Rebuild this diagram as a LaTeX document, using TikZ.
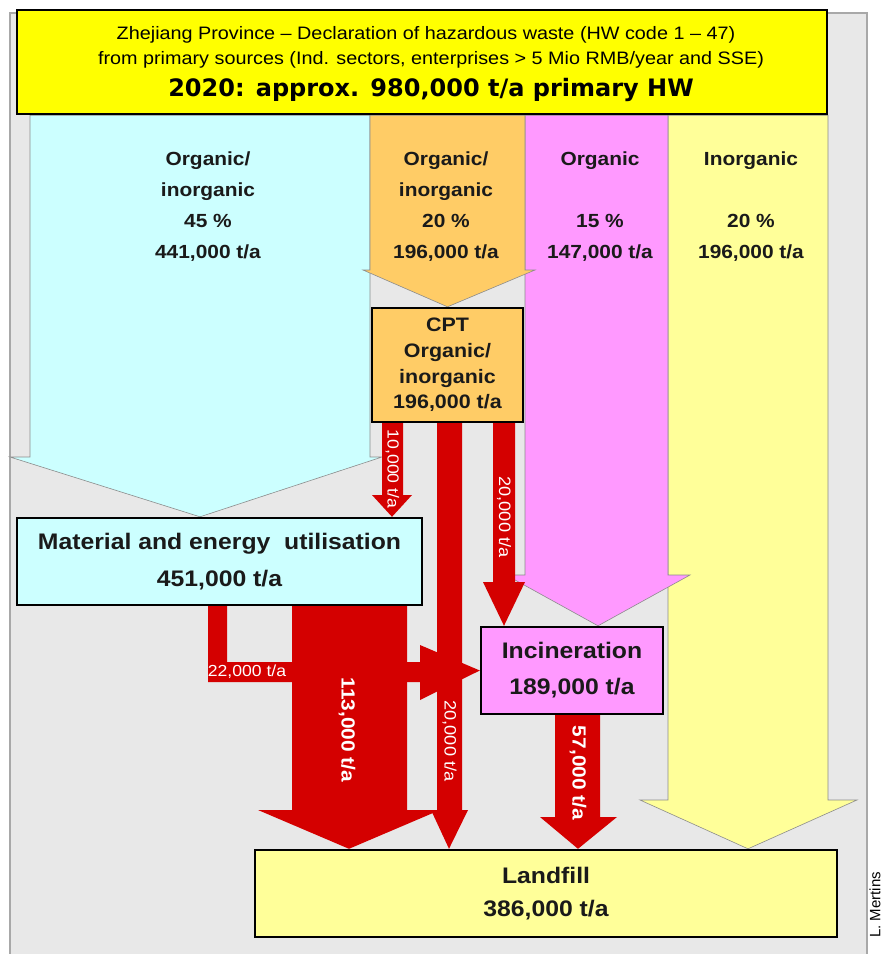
\documentclass[tikz,border=0pt]{standalone}
\usepackage{fontspec}
\setmainfont{Liberation Sans}[FakeStretch=1.1]
\newfontfamily\creditfont{Liberation Sans}
\newfontfamily\verdfont{DejaVu Sans}
\definecolor{panelgray}{HTML}{E8E8E8}
\definecolor{panelline}{HTML}{A8A8A8}
\definecolor{hdryellow}{HTML}{FFFF00}
\definecolor{cyanfill}{HTML}{CCFFFF}
\definecolor{orangefill}{HTML}{FFCC66}
\definecolor{pinkfill}{HTML}{FF99FF}
\definecolor{lightyellow}{HTML}{FFFF99}
\definecolor{flowred}{HTML}{D40000}
\definecolor{txtdark}{HTML}{1A1A1A}
\pgfdeclarelayer{background}
\pgfsetlayers{background,main}
\begin{document}
\begin{tikzpicture}[x=1pt,y=-1pt,
  outl/.style={draw=black!45, line width=0.6pt},
  blockbox/.style={draw=black, line width=2.4pt, rectangle, inner sep=0pt, align=center, text=txtdark},
  redflow/.style={fill=flowred},
  collabel/.style={font=\fontsize{19}{30.7}\selectfont\bfseries, align=center, anchor=north, inner sep=0pt, text=txtdark},
  flowlabel/.style={text=white, rotate=-90, inner sep=0pt},
  hdrline/.style={anchor=base, inner sep=0pt, text=black}]
\useasboundingbox (0,0) rectangle (885,954);

% boxes
\node[blockbox, fill=hdryellow, minimum width=810pt, minimum height=104pt] (hdr) at (422,62) {};
\node[blockbox, fill=orangefill, minimum width=151pt, minimum height=114pt,
  font=\fontsize{19.5}{25.7}\selectfont\bfseries] (cpt) at (447.5,365) {CPT\\Organic/\\inorganic\\196,000 t/a};
\node[blockbox, fill=cyanfill, minimum width=405pt, minimum height=87pt,
  font=\fontsize{22.5}{37}\selectfont\bfseries] (mat) at (219.5,561.5) {Material and energy\ \ utilisation\\451,000 t/a};
\node[blockbox, fill=pinkfill, minimum width=182pt, minimum height=87pt,
  font=\fontsize{22.5}{36}\selectfont\bfseries] (inc) at (572,670.5) {Incineration\\189,000 t/a};
\node[blockbox, fill=lightyellow, minimum width=582pt, minimum height=87pt,
  font=\fontsize{22.5}{33}\selectfont\bfseries] (lf) at (546,893.5) {Landfill\\386,000 t/a};

\begin{pgfonlayer}{background}
  \fill[panelgray] (10,13) rectangle (867,954);
  \draw[panelline, line width=1.2pt] (10,954) -- (10,13) -- (867,13) -- (867,954);
  % big flows
  \filldraw[fill=lightyellow, outl] (668,0 |- hdr.south) -- (828,0 |- hdr.south) -- (828,800) -- (857,800)
     -- (748,0 |- lf.north) -- (640,800) -- (668,800) -- cycle;
  \filldraw[fill=pinkfill, outl] (525,0 |- hdr.south) -- (668,0 |- hdr.south) -- (668,575) -- (690,575)
     -- (598,0 |- inc.north) -- (506,575) -- (525,575) -- cycle;
  \filldraw[fill=cyanfill, outl] (30,0 |- hdr.south) -- (370,0 |- hdr.south) -- (370,457) -- (382,457)
     -- (200,0 |- mat.north) -- (10,457) -- (30,457) -- cycle;
  \filldraw[fill=orangefill, outl] (370,0 |- hdr.south) -- (525,0 |- hdr.south) -- (525,270) -- (535,270)
     -- (cpt.north) -- (363,270) -- (370,270) -- cycle;
  % red flows
  \fill[redflow] (208,0 |- mat.south) -- (227,0 |- mat.south) -- (227,662) -- (420,662) -- (420,645)
     -- (inc.west) -- (420,700) -- (420,682) -- (208,682) -- cycle;
  \fill[redflow] (292,0 |- mat.south) -- (407,0 |- mat.south) -- (407,810) -- (440,810)
     -- (349,0 |- lf.north) -- (258,810) -- (292,810) -- cycle;
  \fill[redflow] (437,0 |- cpt.south) -- (462,0 |- cpt.south) -- (462,810) -- (468,810)
     -- (449,0 |- lf.north) -- (431,810) -- (437,810) -- cycle;
  \fill[redflow] (382,0 |- cpt.south) -- (403,0 |- cpt.south) -- (403,495) -- (412,495)
     -- (392,0 |- mat.north) -- (372,495) -- (382,495) -- cycle;
  \fill[redflow] (493,0 |- cpt.south) -- (515,0 |- cpt.south) -- (515,582) -- (525,582)
     -- (504,0 |- inc.north) -- (483,582) -- (493,582) -- cycle;
  \fill[redflow] (555,0 |- inc.south) -- (600,0 |- inc.south) -- (600,817) -- (617,817)
     -- (578,0 |- lf.north) -- (540,817) -- (555,817) -- cycle;
\end{pgfonlayer}

% header text
\node[hdrline, font=\fontsize{18}{22}\selectfont] (h1) at (426,39)
  {Zhejiang Province – Declaration of hazardous waste (HW code 1 – 47)};
\node[hdrline, font=\fontsize{18}{22}\selectfont] (h2) at (431,64)
  {from primary sources (Ind. sectors, enterprises > 5 Mio RMB/year and SSE)};
\node[hdrline, font=\verdfont\bfseries\fontsize{24}{28}\selectfont] (h3) at (431,96)
  {2020: approx. 980,000 t/a primary HW};

% column labels
\node[collabel] (c1) at (208,152) {Organic/\\inorganic\\45 \%\\441,000 t/a};
\node[collabel] (c2) at (446,152) {Organic/\\inorganic\\20 \%\\196,000 t/a};
\node[collabel] (c3) at (600,152) {Organic\\\mbox{}\\15 \%\\147,000 t/a};
\node[collabel] (c4) at (751,152) {Inorganic\\\mbox{}\\20 \%\\196,000 t/a};

% flow labels
\node[flowlabel, font=\fontsize{16}{19}\selectfont] (t10) at (392.5,469) {10,000 t/a};
\node[flowlabel, font=\fontsize{16.5}{19}\selectfont] (t20b) at (504,517) {20,000 t/a};
\node[flowlabel, font=\fontsize{16.5}{19}\selectfont] (t20c) at (449.5,741) {20,000 t/a};
\node[inner sep=0pt, text=white, font=\fontsize{16}{19}\selectfont] (t22) at (247,672) {22,000 t/a};
\node[flowlabel, font=\fontsize{19}{22}\selectfont\bfseries] (t113) at (347,730) {113,000 t/a};
\node[flowlabel, font=\fontsize{19}{22}\selectfont\bfseries] (t57) at (578,773) {57,000 t/a};

% credit
\node[rotate=90, inner sep=0pt, font=\creditfont\fontsize{15}{18}\selectfont] (credit) at (875,905) {L. Mertins};
\end{tikzpicture}
\end{document}
